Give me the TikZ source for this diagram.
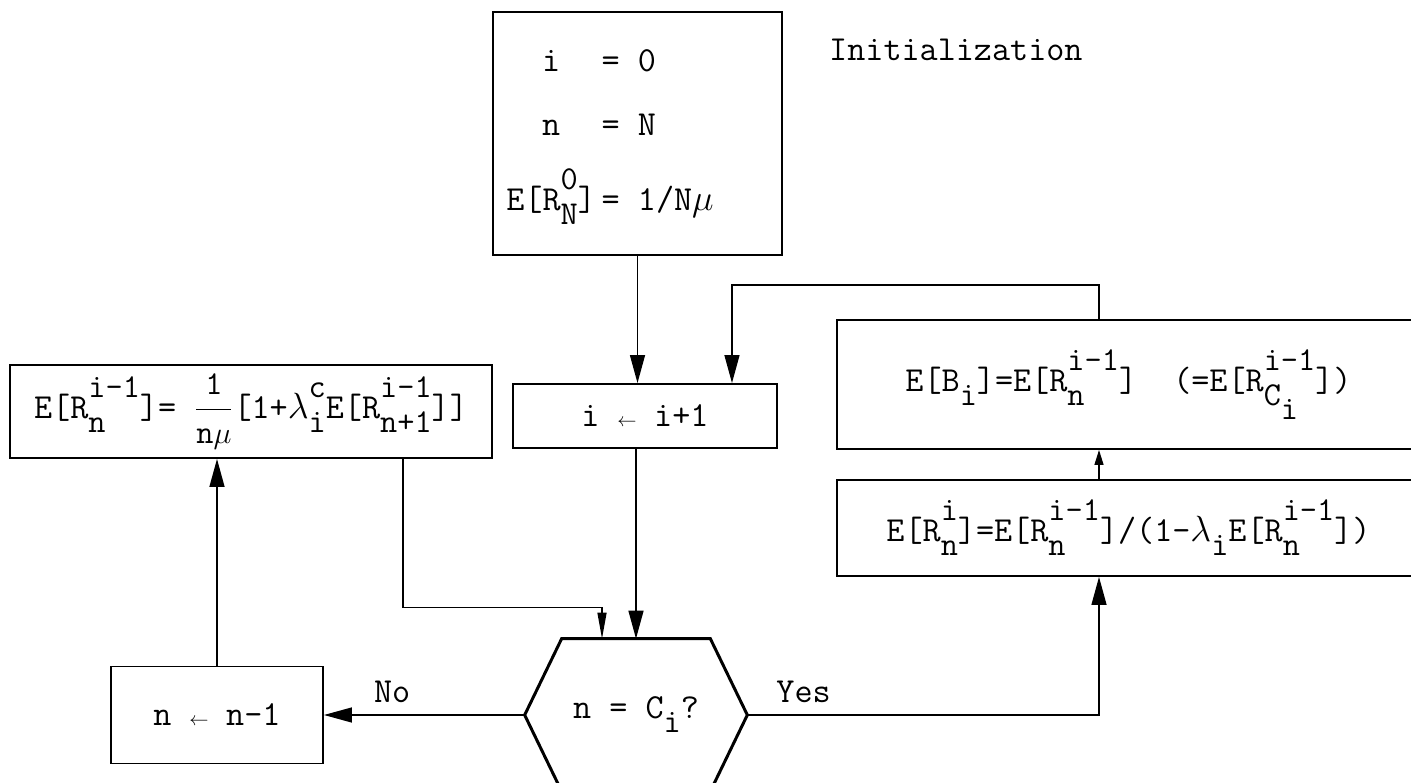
\documentclass[tikz,border=0pt]{standalone}
\usepackage{amsmath}
\usetikzlibrary{arrows.meta}

% typewriter scripts: raised index over lowered index, as on the original sheet
\newcommand{\scrfont}{\fontsize{19}{21}\selectfont}
\newcommand{\supsub}[2]{\sbox0{\raisebox{12pt}{\scrfont #1}}\sbox2{\raisebox{-8pt}{\scrfont #2}}%
  \ifdim\wd0>\wd2 \rlap{\usebox2}\usebox0\else\rlap{\usebox0}\usebox2\fi}
\newcommand{\lowr}[1]{\raisebox{-8pt}{\scrfont #1}}
\newcommand{\asg}{\makebox[10.5pt]{\fontsize{11}{12}\selectfont$\leftarrow$}}

\begin{document}
\begin{tikzpicture}[x=0.02cm, y=-0.02cm,
    every node/.style={font=\fontsize{20}{24}\selectfont\ttfamily},
    box/.style={draw, line width=1.1pt, inner sep=0pt},
    link/.style={line width=0.8pt},
    tip/.style={link, -{Triangle[length=0.56cm,width=0.3cm]}},
    thintip/.style={link, -{Triangle[length=0.52cm,width=0.18cm]}},
    shorttip/.style={link, -{Triangle[length=0.3cm,width=0.18cm]}}]
    \useasboundingbox (0,0) rectangle (1411,783);
    \clip (0,0) rectangle (1411,783);

    % Boxes
    \node[box, minimum width=5.78cm, minimum height=4.86cm] (init) at (637.5,133.5)
        {\begin{tabular}{@{}c@{\,}l@{}}
            i & = 0\\[12pt]
            n & = N\\[12pt]
            E[R\supsub{0}{N}] & = 1/N$\mu$
         \end{tabular}\hspace*{1.1cm}};
    \node[anchor=west] (initlabel) at (823,50) {Initialization};

    \node[box, minimum width=5.28cm, minimum height=1.28cm] (inc) at (645,416) {i \asg{} i+1};

    \node[box, minimum width=9.64cm, minimum height=1.86cm] (upd) at (251,411.5)
        {E[R\supsub{i-1}{n}]= $\dfrac{\hbox{\scrfont 1}}{\hbox{\scrfont n$\mu$}}$[1+$\lambda$\supsub{c}{i}E[R\supsub{i-1}{n+1}]]};

    \node[box, minimum width=4.24cm, minimum height=1.94cm] (dec) at (217,715) {n \asg{} n-1};

    \node[box, minimum width=11.66cm, minimum height=2.58cm] (bsy) at (1128.5,384.5)
        {E[B\lowr{i}]=E[R\supsub{i-1}{n}]\ \ (=E[R\supsub{i-1}{C\lowr{i}}])};

    \node[box, minimum width=11.66cm, minimum height=1.92cm] (res) at (1128.5,528)
        {E[R\supsub{i}{n}]=E[R\supsub{i-1}{n}]/(1-$\lambda$\lowr{i}E[R\supsub{i-1}{n}])};

    % Decision
    \node[minimum width=4.44cm, minimum height=3.04cm, inner sep=0pt] (hex) at (636,715) {n = C\lowr{i}?};
    \draw[line width=1.7pt] (hex.west) -- ([xshift=0.74cm]hex.north west) -- ([xshift=-0.74cm]hex.north east)
        -- (hex.east) -- ([xshift=-0.74cm]hex.south east) -- ([xshift=0.74cm]hex.south west) -- cycle;

    % Connectors
    \draw[tip] (init) -- (init |- inc.north);
    \draw[tip] ([xshift=-0.59cm]bsy.north) -- ++(0,-34) -| ([xshift=1.74cm]inc.north);
    \draw[shorttip] ([xshift=-0.59cm]res.north) -- ([xshift=-0.59cm]bsy.south);
    \draw[tip] (hex.north |- inc.south) -- (hex.north);
    \draw[thintip] ([xshift=3.04cm]upd.south) |- ([xshift=-0.68cm,yshift=0.62cm]hex.north) -- ([xshift=-0.68cm]hex.north);
    \draw[tip] (hex.west) -- (dec.east) node[pos=0.66, above=3pt] {No};
    \draw[tip] (dec) -- (dec |- upd.south);
    \draw[tip] (hex.east) -| ([xshift=-0.59cm]res.south) node[pos=0.08, above=3pt] {Yes};
\end{tikzpicture}
\end{document}
